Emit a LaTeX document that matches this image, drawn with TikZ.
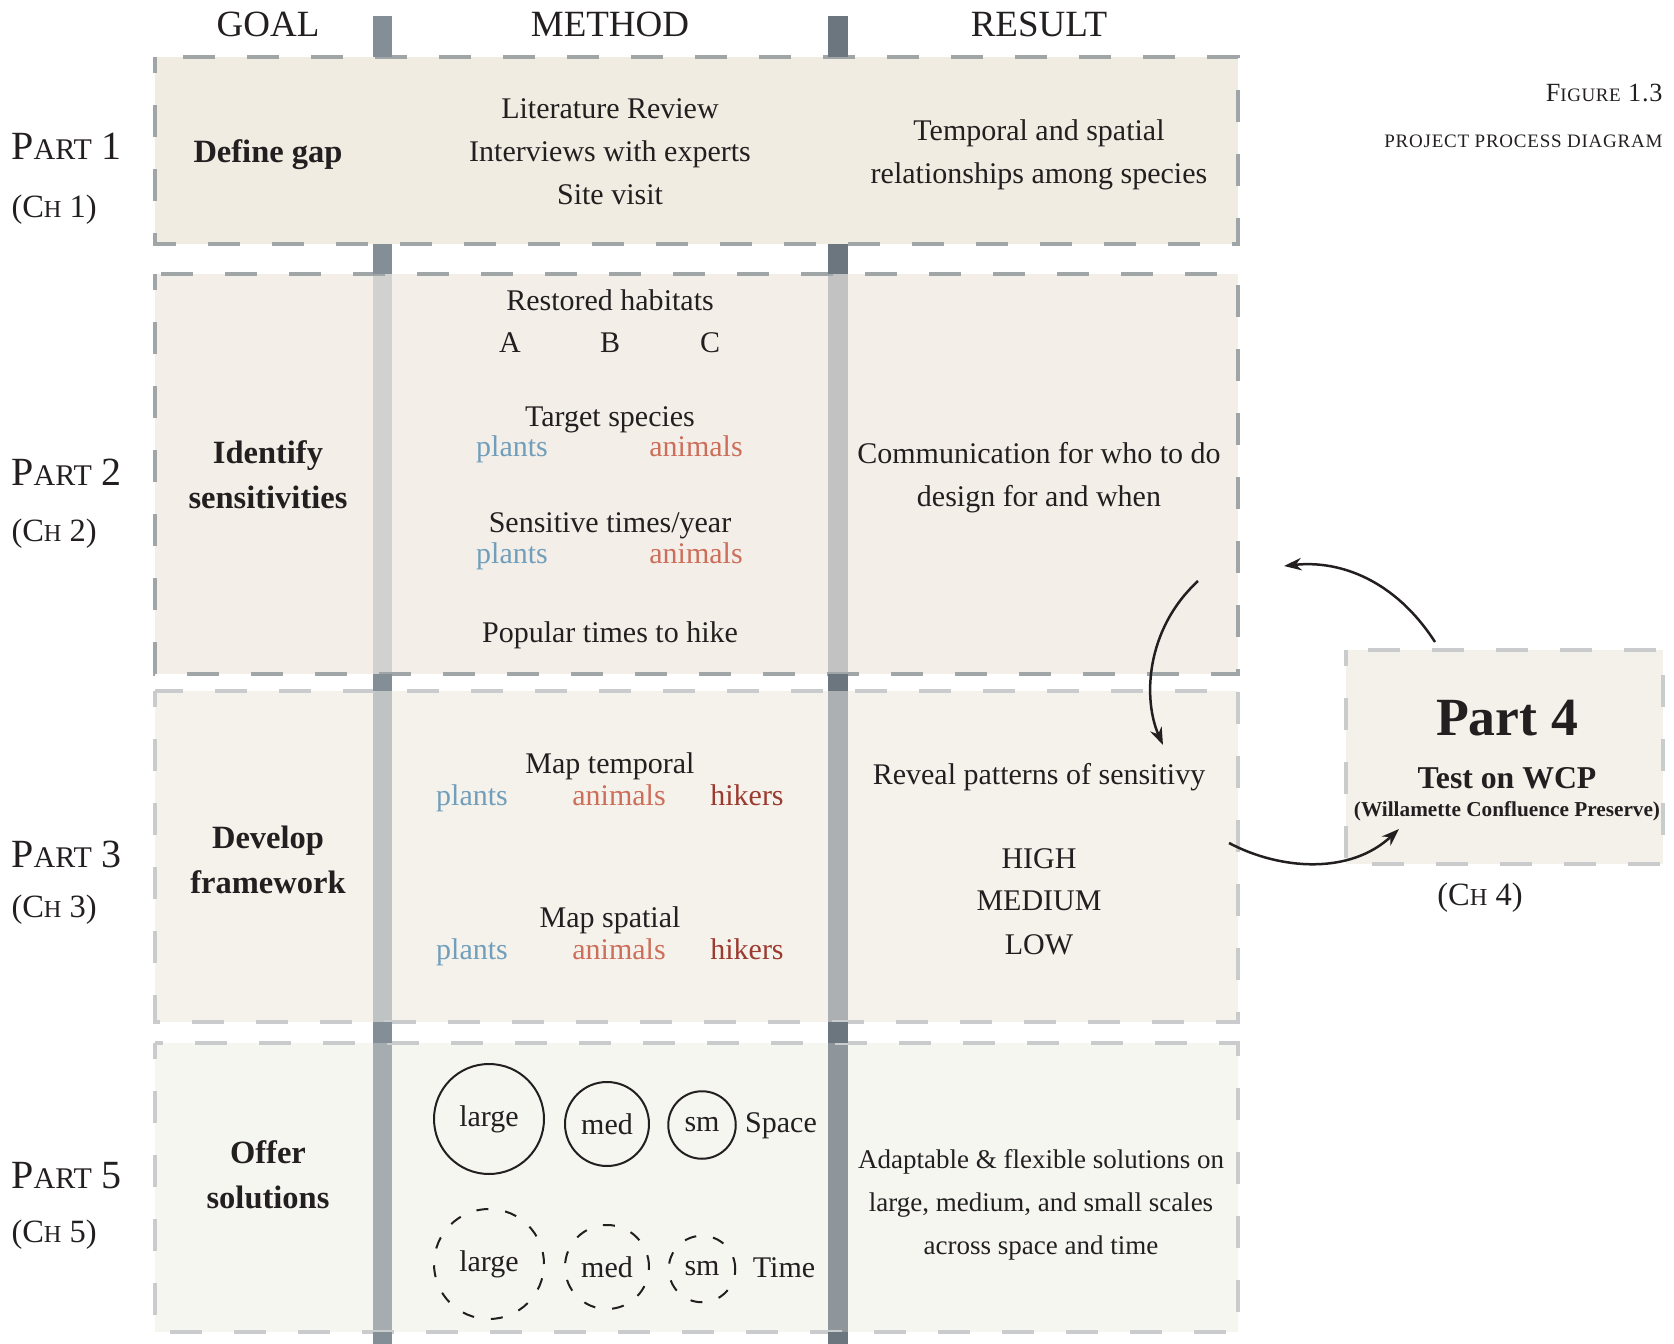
\documentclass[tikz,border=0pt]{standalone}
\usepackage{fontspec}
\setmainfont{Liberation Serif}
\usetikzlibrary{arrows.meta}

\definecolor{ink}{HTML}{231F20}
\definecolor{barL}{HTML}{838E96}
\definecolor{barR}{HTML}{6B767E}
\definecolor{fillA}{HTML}{F0ECE1}
\definecolor{fillB}{HTML}{F3EFE8}
\definecolor{fillC}{HTML}{F5F2EC}
\definecolor{fillE}{HTML}{F6F6F1}
\definecolor{fillD}{HTML}{F4F1EA}
\definecolor{edgeDark}{HTML}{A0A5A8}
\definecolor{edgeLight}{HTML}{C9CBCD}
\definecolor{plantblue}{HTML}{709EBB}
\definecolor{animalred}{HTML}{CD6E5A}
\definecolor{hikerred}{HTML}{9B3A2F}

\newcommand{\PartLbl}[1]{{\fontsize{16}{16}\selectfont P{\fontsize{12}{12}\selectfont ART} #1}}
\newcommand{\ChLbl}[1]{{\fontsize{13}{13}\selectfont (C{\fontsize{9.75}{9.75}\selectfont H} #1)}}

\begin{document}
\begin{tikzpicture}[x=0.4pt, y=-0.4pt, >={Stealth[length=7pt,width=5pt]},
  txt/.style={anchor=base, inner sep=0pt, text=ink, align=center},
  body/.style={txt, font=\fontsize{12}{17.2}\selectfont},
  goal/.style={txt, font=\fontsize{13}{18}\selectfont\bfseries},
  head/.style={txt, font=\fontsize{14.8}{18}\selectfont},
  plant/.style={body, text=plantblue},
  animal/.style={body, text=animalred},
  hiker/.style={body, text=hikerred},
  dashbox/.style={line width=1.3pt, dash pattern=on 12.8pt off 12.8pt, dash phase=6.4pt},
  spacecirc/.style={circle, draw=ink, line width=0.8pt, inner sep=0pt, text=ink, font=\fontsize{12}{14}\selectfont},
  timecirc/.style={spacecirc, dash pattern=on 4.8pt off 6.8pt},
  flow/.style={->, line width=1pt, draw=ink}]

\useasboundingbox (0,0) rectangle (1674,1344);

% Row boxes
\fill[fillA] (155,57) rectangle (1238,244);
\fill[fillB] (155,274) rectangle (1238,674);
\fill[fillC] (155,691) rectangle (1238,1022);
\fill[fillE] (155,1043) rectangle (1238,1332);

% Bars inside the boxes
\fill[fill=barL!30!fillB] (373,274) rectangle (392,674);
\fill[fill=barR!37!fillB] (828,274) rectangle (848,674);
\fill[fill=barL!47!fillC] (373,691) rectangle (392,1022);
\fill[fill=barR!53!fillC] (828,691) rectangle (848,1022);
\fill[fill=barL!70!fillE] (373,1043) rectangle (392,1332);
\fill[fill=barR!75!fillE] (828,1043) rectangle (848,1332);

% Box edges
\draw[dashbox, draw=edgeDark] (155,57) rectangle (1238,244);
\draw[dashbox, draw=edgeDark] (155,274) rectangle (1238,674);
\draw[dashbox, draw=edgeLight] (155,691) rectangle (1238,1022);
\draw[dashbox, draw=edgeLight] (155,1043) rectangle (1238,1332);

% Bars between the boxes
\foreach \ya/\yb in {16/57, 244/274, 674/691, 1022/1043, 1332/1344} {
  \fill[barL] (373,\ya) rectangle (392,\yb);
  \fill[barR] (828,\ya) rectangle (848,\yb);
}

% Column heads
\node[head] (goalHd) at (268,37) {GOAL};
\node[head] (methodHd) at (610,37) {METHOD};
\node[head] (resultHd) at (1039,37) {RESULT};

% Figure caption
\node[txt, anchor=base east] (figNo) at (1663,102)
  {\addfontfeature{LetterSpace=3}\fontsize{10.5}{12}\selectfont F{\fontsize{7.6}{9}\selectfont IGURE} 1.3};
\node[txt, anchor=base east] (figTitle) at (1663,148)
  {\addfontfeature{LetterSpace=4}\fontsize{7.6}{9}\selectfont PROJECT PROCESS DIAGRAM};

% Part labels
\node[txt, anchor=base west] (part1) at (11,160) {\PartLbl{1}};
\node[txt, anchor=base west] (ch1) at (11,218) {\ChLbl{1}};
\node[txt, anchor=base west] (part2) at (11,486) {\PartLbl{2}};
\node[txt, anchor=base west] (ch2) at (11,542) {\ChLbl{2}};
\node[txt, anchor=base west] (part3) at (11,867) {\PartLbl{3}};
\node[txt, anchor=base west] (ch3) at (11,917) {\ChLbl{3}};
\node[txt, anchor=base west] (part5) at (11,1188) {\PartLbl{5}};
\node[txt, anchor=base west] (ch5) at (11,1242) {\ChLbl{5}};

% Goal column (base = last line)
\node[goal] (gap) at (268,163) {Define gap};
\node[goal] (sens) at (268,509) {Identify\\sensitivities};
\node[goal] (frame) at (268,893) {Develop\\framework};
\node[goal] (sol) at (268,1208) {Offer\\solutions};

% Method column
\node[body] (lit) at (610,205) {Literature Review\\Interviews with experts\\Site visit};
\node[body] (hab) at (610,311) {Restored habitats};
\node[body] (habA) at (510,353) {A};
\node[body] (habB) at (610,353) {B};
\node[body] (habC) at (710,353) {C};
\node[body] (tgt) at (610,427) {Target species};
\node[plant] (tgtP) at (512,457) {plants};
\node[animal] (tgtA) at (696,457) {animals};
\node[body] (sensT) at (610,533) {Sensitive times/year};
\node[plant] (sensP) at (512,564) {plants};
\node[animal] (sensA) at (696,564) {animals};
\node[body] (hike) at (610,643) {Popular times to hike};
\node[body] (mapT) at (610,773) {Map temporal};
\node[plant] (mapTP) at (472,805) {plants};
\node[animal] (mapTA) at (619,805) {animals};
\node[hiker] (mapTH) at (747,805) {hikers};
\node[body] (mapS) at (610,927) {Map spatial};
\node[plant] (mapSP) at (472,959) {plants};
\node[animal] (mapSA) at (619,959) {animals};
\node[hiker] (mapSH) at (747,959) {hikers};

% Scale circles
\node[spacecirc, minimum size=44pt] (lgS) at (489,1119) {large};
\node[spacecirc, minimum size=33.6pt] (mdS) at (607,1124) {med};
\node[spacecirc, minimum size=27pt] (smS) at (702,1125) {sm};
\node[body] (space) at (781,1132) {Space};
\node[timecirc, minimum size=44pt] (lgT) at (489,1264) {large};
\node[timecirc, minimum size=33.6pt] (mdT) at (607,1267) {med};
\node[timecirc, minimum size=26.6pt] (smT) at (702,1269) {sm};
\node[body] (time) at (784,1277) {Time};

% Result column (base = last line)
\node[body] (relat) at (1039,184) {Temporal and spatial\\relationships among species};
\node[body] (comm) at (1039,507) {Communication for who to do\\design for and when};
\node[body] (reveal) at (1039,784) {Reveal patterns of sensitivy};
\node[body] (levels) at (1039,954) {HIGH\\MEDIUM\\LOW};
\node[body, font=\fontsize{10.8}{17.2}\selectfont] (adapt) at (1041,1254) {Adaptable \& flexible solutions on\\large, medium, and small scales\\across space and time};

% Part 4
\fill[fillD] (1346,650) rectangle (1663,864);
\draw[dashbox, draw=edgeLight] (1346,650) rectangle (1663,864);
\node[txt, font=\fontsize{21.5}{24}\selectfont\bfseries] (p4) at (1507,735) {Part 4};
\node[txt, font=\fontsize{12.7}{14}\selectfont\bfseries] (wcp) at (1507,788) {Test on WCP};
\node[txt, font=\fontsize{8.5}{10}\selectfont\bfseries] (wcpFull) at (1507,816) {(Willamette Confluence Preserve)};
\node[txt] (ch4) at (1480,905) {\ChLbl{4}};

% Loop arrows
\coordinate (backStart) at (1435,642);
\coordinate (backEnd) at (1284,566);
\coordinate (downStart) at (1198,581);
\coordinate (downEnd) at (1163,745);
\coordinate (testStart) at (1229,843);
\coordinate (testEnd) at (1399,829);
\draw[flow] (backStart) .. controls (1395,580) and (1340,560) .. (backEnd);
\draw[flow] (downStart) .. controls (1145,630) and (1143,700) .. (downEnd);
\draw[flow] (testStart) .. controls (1280,870) and (1350,875) .. (testEnd);

\end{tikzpicture}
\end{document}
